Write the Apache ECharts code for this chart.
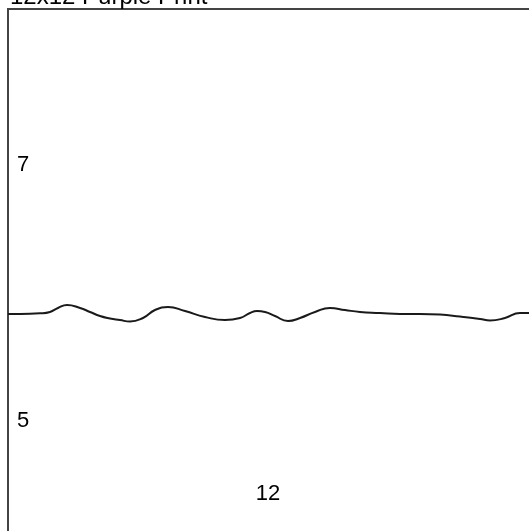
<!DOCTYPE html>
<html><head><meta charset="utf-8">
<script src="https://cdn.jsdelivr.net/npm/echarts@6/dist/echarts.min.js"></script>
<style>html,body{margin:0;padding:0;background:#fff}#c{width:529px;height:531px}</style>
</head><body><div id="c"></div>
<script>
const titleText = '12x12 Purple Print';
const xPositions = [0,1.2,3.2,4.2,5,5.9,7.2,8.2,9.2,10.2,11.2,12.2,13.5,14.7,16,17.7,19.7,21.7,23.2,24.2,24.9,25.7,26.7,28,29.2,30.7,32.2,33.7,35.2,37.2,39.2,41.2,43.2,45.2,47.2,48.2,49.7,51.2,52.1,54];
const lineValues = [5.836,5.836,5.841,5.852,5.883,5.906,5.883,5.852,5.820,5.801,5.789,5.777,5.805,5.867,5.891,5.859,5.813,5.789,5.805,5.844,5.859,5.852,5.820,5.781,5.805,5.852,5.883,5.867,5.852,5.844,5.836,5.836,5.832,5.816,5.797,5.785,5.805,5.844,5.844,5.844];
const yTickLabels = {5: '5', 7: '7'};
const xTickLabels = {26: '12'};

const chart = echarts.init(document.getElementById('c'), null, {renderer: 'canvas'});
chart.setOption({
  animation: false,
  backgroundColor: '#fff',
  title: {text: titleText, left: 10, top: -15, padding: 0,
    textStyle: {fontFamily: 'Liberation Sans, Arial, sans-serif', fontSize: 24, fontWeight: 'normal', color: '#000'}},
  grid: {left: 8, top: 9, width: 540, height: 540, show: true, borderColor: '#444', borderWidth: 2,
    containLabel: false, outerBoundsMode: 'none'},
  xAxis: {type: 'value', min: 0, max: 54, interval: 13,
    axisLine: {show: false}, axisTick: {show: false}, splitLine: {show: false},
    axisLabel: {inside: true, margin: 44, fontFamily: 'Liberation Sans, Arial, sans-serif', fontSize: 22, color: '#000',
      formatter: v => xTickLabels[v] || ''}},
  yAxis: {type: 'value', min: 4, max: 8.219, interval: 1,
    axisLine: {show: false}, axisTick: {show: false}, splitLine: {show: false},
    axisLabel: {inside: true, margin: 9, fontFamily: 'Liberation Sans, Arial, sans-serif', fontSize: 22, color: '#000',
      formatter: v => yTickLabels[v] || ''}},
  series: [{type: 'line', smooth: 0.5, symbol: 'none',
    lineStyle: {color: '#1a1a1a', width: 2},
    data: xPositions.map((x, i) => [x, lineValues[i]])}]
});
</script></body></html>
